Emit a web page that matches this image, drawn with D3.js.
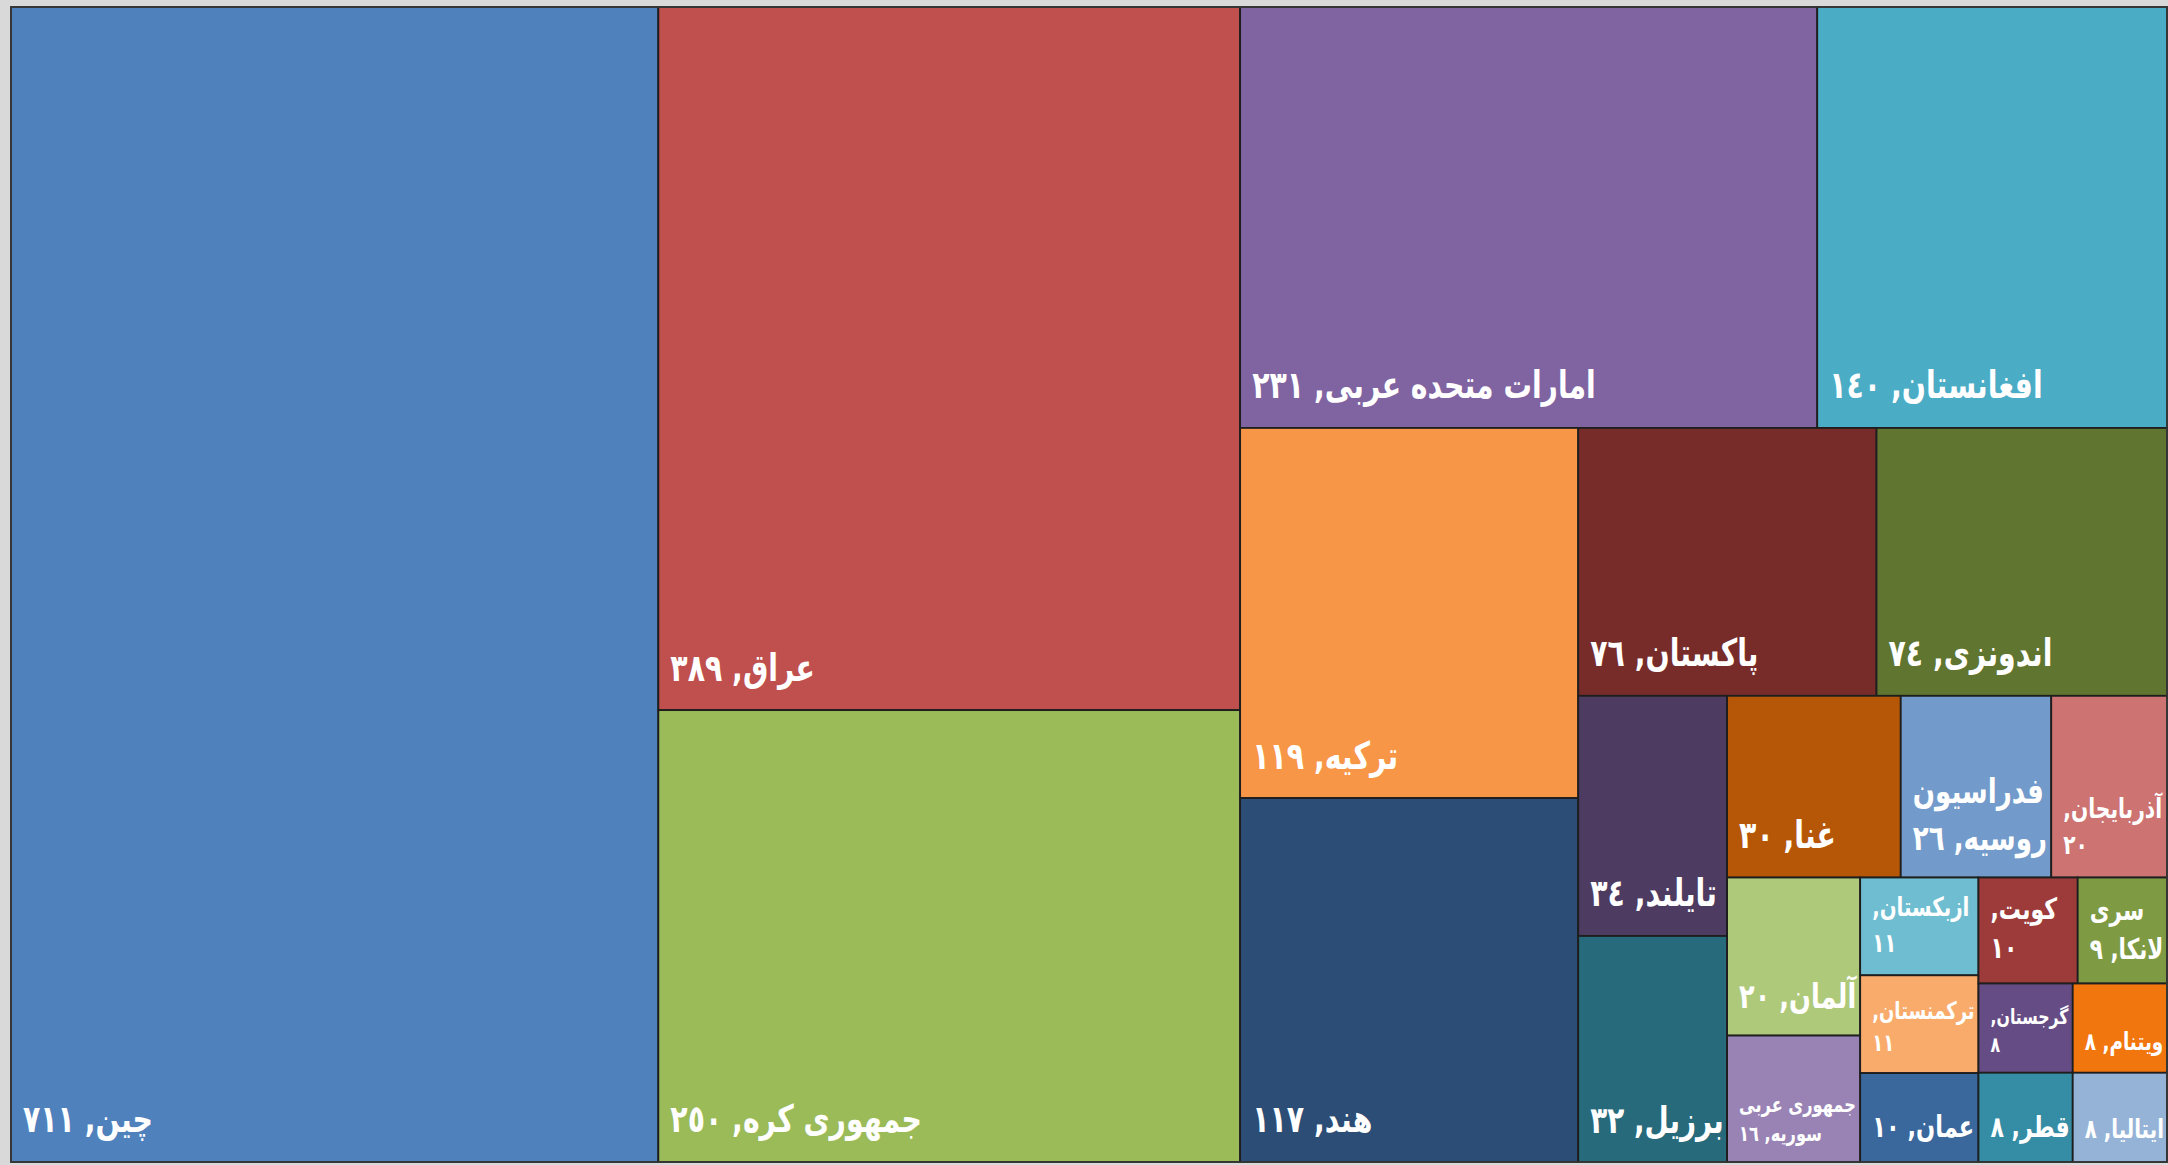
<!DOCTYPE html>
<html><head><meta charset="utf-8">
<script src="https://cdn.jsdelivr.net/npm/d3@7"></script>
<style>
html,body{margin:0;padding:0;background:#d9d9d9;overflow:hidden;}
svg{display:block;}
</style></head><body>
<svg id="chart" width="2168" height="1165"></svg>
<script>
// ---- data ----
const countries = ["چین","عراق","جمهوری کره","امارات متحده عربی","افغانستان","ترکیه","هند","پاکستان","اندونزی","تایلند","برزیل","غنا","فدراسیون روسیه","آذربایجان","آلمان","جمهوری عربی سوریه","ازبکستان","ترکمنستان","عمان","کویت","سری لانکا","گرجستان","ویتنام","قطر","ایتالیا"];
const values = [711,389,250,231,140,119,117,76,74,34,32,30,26,20,20,16,11,11,10,10,9,8,8,8,8];
const colors = ["#4f81bd","#c0504d","#9bbb59","#8064a2","#4bacc6","#f79646","#2c4d75","#772c2a","#5f7530","#4d3b62","#276a7c","#b65708","#729aca","#cd7371","#afc97a","#9983b5","#6fbdd1","#f9ab6b","#3a679c","#9c3b39","#7e9b43","#654c85","#f2760e","#348ca5","#95b3d7"];

// ---- layout ----
const plot = {x0:11, y0:7, x1:2167, y1:1162};
const svg = d3.select("#chart");

function excelSquarify(ratio, bias) {
  return function(parent, x0, y0, x1, y1) {
    const nodes = parent.children, n = nodes.length;
    let value = parent.value, i0 = 0, i1 = 0;
    while (i0 < n) {
      const dx = x1 - x0, dy = y1 - y0;
      let sumValue = nodes[i1++].value;
      let minValue = sumValue, maxValue = sumValue;
      const alpha = Math.max(dy / dx, dx / dy) / (value * ratio);
      let beta = sumValue * sumValue * alpha;
      let minRatio = Math.max(maxValue / beta, beta / minValue);
      for (; i1 < n; ++i1) {
        const v = nodes[i1].value;
        sumValue += v;
        if (v < minValue) minValue = v;
        if (v > maxValue) maxValue = v;
        beta = sumValue * sumValue * alpha;
        const newRatio = Math.max(maxValue / beta, beta / minValue);
        if (newRatio > minRatio) { sumValue -= v; break; }
        minRatio = newRatio;
      }
      const row = {value: sumValue, children: nodes.slice(i0, i1)};
      if (dx < dy * bias) d3.treemapDice(row, x0, y0, x1, y0 += dy * sumValue / value);
      else d3.treemapSlice(row, x0, y0, x0 += dx * sumValue / value, y1);
      value -= sumValue; i0 = i1;
    }
  };
}

const data = {children: countries.map((c, i) => ({name: c, value: values[i], color: colors[i]}))};
const root = d3.hierarchy(data).sum(d => d.value || 0);
d3.treemap()
  .tile(excelSquarify(0.952, 1.067))
  .size([plot.x1 - plot.x0, plot.y1 - plot.y0])(root);

const g = svg.append("g").attr("transform", `translate(${plot.x0},${plot.y0})`);

const FONT = "DejaVu Sans";
const WEIGHT = "bold";
const SX = 0.9, SY = 1.2;
const meas = svg.append("text").attr("font-family", FONT).attr("font-weight", WEIGHT).attr("visibility", "hidden");
function measure(str, fs) { meas.attr("font-size", fs).text(str); return meas.node().getComputedTextLength() * SX; }

const arabicDigits = s => s.replace(/[0-9]/g, d => String.fromCharCode(0x0660 + (+d)));
const labelOf = d => d.data.name + ", " + arabicDigits(d3.format("d")(d.data.value));

const padL = 12, padR = 3, LH = 1.6, MAXFS = 31.5;
const linePenalty = [1, 1, 0.9, 0.65, 0.5];
function wrapAt(words, fs, availW) {
  const lines = []; let cur = "";
  for (const wd of words) {
    const t = cur ? cur + " " + wd : wd;
    if (measure(t, fs) <= availW) cur = t;
    else {
      if (cur) lines.push(cur);
      cur = wd;
      if (measure(wd, fs) > availW) return null;
    }
  }
  if (cur) lines.push(cur);
  return lines;
}
function fitLabel(text, w, h) {
  const words = text.split(" ");
  const availW = w - padL - padR;
  let best = null, bestScore = -1;
  for (let fs = MAXFS; fs >= 8; fs -= 0.5) {
    const lines = wrapAt(words, fs, availW);
    if (!lines) continue;
    if (lines.length * LH * fs + 26 > h) continue;
    const score = fs * (linePenalty[lines.length] || 0.4);
    if (score > bestScore) { bestScore = score; best = {fs, lines}; }
  }
  return best || {fs: 8, lines: [text]};
}

const leaves = root.leaves();
const cell = g.selectAll("g.cell").data(leaves).join("g").attr("class", "cell");

cell.append("rect")
  .attr("x", d => d.x0).attr("y", d => d.y0)
  .attr("width", d => d.x1 - d.x0).attr("height", d => d.y1 - d.y0)
  .attr("fill", d => d.data.color)
  .attr("stroke", "#1e1e1e").attr("stroke-width", 1.8);

cell.each(function(d) {
  const fit = fitLabel(labelOf(d), d.x1 - d.x0, d.y1 - d.y0);
  const base = d.y1 - 10 - 0.62 * fit.fs;
  const n = fit.lines.length;
  fit.lines.forEach((ln, i) => {
    const y = base - (n - 1 - i) * LH * fit.fs;
    d3.select(this).append("text")
      .attr("transform", `translate(${d.x0 + padL},${y}) scale(${SX},${SY})`)
      .attr("font-family", FONT).attr("font-weight", WEIGHT).attr("font-size", fit.fs)
      .attr("direction", "rtl").attr("text-anchor", "end")
      .attr("fill", "#ffffff")
      .text(ln);
  });
});

g.append("rect").attr("x", 0).attr("y", 0)
  .attr("width", plot.x1 - plot.x0).attr("height", plot.y1 - plot.y0)
  .attr("fill", "none").attr("stroke", "#3a3a3a").attr("stroke-width", 1.5);
meas.remove();
</script>
</body></html>
